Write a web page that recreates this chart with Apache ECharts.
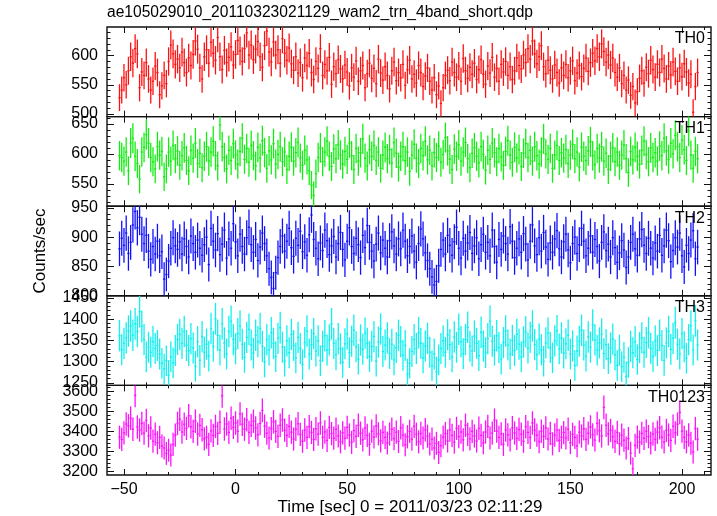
<!DOCTYPE html>
<html><head><meta charset="utf-8">
<script src="https://cdn.jsdelivr.net/npm/echarts@6/dist/echarts.min.js"></script>
<style>html,body{margin:0;padding:0;background:#fff}#c{width:717px;height:516px}</style>
</head><body><div id="c"></div>
<script>
// ---- data: 1-s bins, first bin centre at t = -52 s ----
const timeStart = -52;
const binWidth = 1;
const th0 = [
528,541,562,550,574,598,587,612,603,545,572,566,588,560,541,556,582,571,533,548,
566,552,590,618,603,585,594,579,606,588,571,596,583,602,625,611,579,560,598,610,
587,623,604,592,631,598,576,609,588,597,615,584,602,626,608,590,612,639,601,618,
593,611,624,598,580,617,642,606,589,623,601,610,587,629,604,592,613,586,575,598,
570,588,562,596,583,604,571,559,590,578,612,566,585,574,597,551,581,569,593,577,
560,584,572,548,579,563,591,556,574,583,545,569,587,561,578,552,594,570,558,581,
566,543,574,589,557,571,562,585,549,576,592,560,568,553,583,571,547,565,579,556,
541,562,533,548,518,545,566,575,557,589,571,563,582,556,595,574,561,580,568,587,
559,576,593,568,551,582,570,597,563,578,556,585,572,590,566,581,559,574,596,583,
577,601,588,612,594,625,603,586,598,617,581,569,592,575,560,584,571,553,579,566,
585,562,574,591,557,570,583,564,578,596,573,588,604,591,612,598,620,607,589,601,
584,596,571,563,579,552,566,541,558,532,547,519,538,561,574,553,580,569,592,576,
563,585,571,594,578,560,582,567,589,573,556,579,564,586,572,553,568,503,547,571];
const th1 = [
597,594,588,603,572,618,626,596,584,558,603,611,632,618,594,587,575,612,598,604,
562,575,603,588,614,592,605,581,597,610,589,572,606,593,618,584,601,577,596,612,
588,603,621,597,580,648,612,594,575,606,589,617,598,583,604,626,591,609,586,614,
597,580,611,593,622,602,576,605,590,617,583,599,612,587,603,574,596,611,588,602,
619,593,581,606,590,572,548,531,567,594,610,587,603,621,596,579,608,592,615,598,
583,604,591,618,597,574,609,588,602,625,593,580,607,596,614,589,603,576,598,611,
592,607,585,619,601,578,596,612,589,603,571,598,616,593,584,609,597,621,590,606,
580,602,594,613,586,599,627,605,591,574,608,596,615,588,603,619,592,577,601,610,
596,585,612,599,573,606,591,618,602,587,609,595,581,604,622,598,586,611,593,607,
579,601,617,594,606,588,612,597,583,603,625,600,591,609,576,598,614,589,602,593,
607,584,598,616,592,603,578,611,596,589,605,620,597,582,609,593,612,588,601,574,
596,610,587,603,581,598,615,592,569,604,590,611,596,583,606,621,599,587,610,594,
602,588,613,597,626,605,591,618,600,631,612,594,623,607,589,638,598,576,604,592];
const th2 = [
880,898,886,907,872,891,921,944,916,934,905,889,903,876,862,884,871,893,868,875,
828,836,859,881,899,885,879,892,871,897,884,866,902,889,874,895,881,869,887,900,
853,915,893,878,906,870,888,912,864,897,881,923,892,868,905,884,871,899,917,887,
874,896,860,883,907,889,868,846,831,812,839,865,884,902,876,893,915,882,867,898,
886,910,875,892,869,904,938,896,881,863,890,877,912,894,870,885,901,866,889,908,
879,861,893,916,884,872,898,887,865,903,882,920,891,876,859,888,907,873,895,881,
866,894,909,885,871,897,880,912,893,868,884,902,876,857,889,914,897,873,860,846,
832,818,824,851,879,895,871,903,886,869,892,917,881,864,898,876,890,908,872,885,
899,863,887,905,874,891,868,912,884,857,896,879,902,889,871,918,893,865,881,897,
874,906,888,861,893,921,885,870,899,876,908,883,862,890,874,897,911,880,866,892,
905,878,856,889,900,872,887,915,893,868,881,902,874,896,884,859,891,909,877,888,
866,899,882,857,873,894,878,848,866,891,905,880,869,897,913,886,872,898,881,864,
890,876,903,869,885,912,894,858,877,899,883,907,868,849,886,872,895,911,863,883];
const th3 = [
1361,1328,1343,1356,1372,1384,1362,1389,1371,1418,1383,1352,1311,1334,1322,1347,1331,1338,1318,1296,
1283,1302,1268,1311,1297,1326,1352,1364,1343,1371,1338,1326,1354,1332,1289,1347,1303,1359,1322,1341,
1313,1378,1336,1401,1362,1327,1389,1344,1318,1371,1395,1352,1330,1366,1384,1341,1310,1357,1376,1339,
1320,1362,1347,1378,1336,1299,1352,1327,1368,1343,1312,1355,1380,1334,1301,1349,1321,1364,1338,1309,
1357,1331,1293,1345,1372,1318,1340,1366,1325,1349,1302,1336,1361,1327,1351,1389,1343,1316,1354,1330,
1298,1342,1365,1321,1348,1374,1335,1306,1351,1329,1367,1343,1312,1336,1359,1301,1346,1377,1324,1339,
1356,1319,1341,1304,1333,1362,1347,1315,1338,1271,1296,1324,1352,1331,1368,1343,1309,1337,1355,1322,
1290,1318,1276,1304,1331,1349,1322,1363,1340,1311,1358,1334,1376,1347,1319,1352,1381,1336,1325,1360,
1343,1314,1369,1337,1321,1354,1395,1348,1327,1361,1333,1306,1345,1372,1339,1318,1350,1326,1364,1341,
1311,1346,1370,1332,1357,1384,1340,1316,1353,1328,1301,1344,1367,1333,1309,1349,1373,1330,1356,1320,
1342,1362,1318,1337,1291,1325,1348,1374,1339,1313,1358,1334,1386,1351,1327,1344,1365,1319,1340,1307,
1332,1353,1316,1291,1327,1288,1310,1265,1298,1336,1321,1347,1305,1333,1356,1322,1345,1368,1331,1312,
1349,1326,1362,1338,1303,1344,1371,1329,1355,1392,1341,1318,1366,1335,1308,1352,1384,1327,1396,1339];
const th0123 = [
3372,3361,3394,3438,3429,3467,3412,3581,3423,3408,3441,3392,3456,3379,3418,3352,3387,3344,3371,3328,
3318,3291,3307,3283,3336,3382,3441,3462,3398,3437,3416,3479,3424,3401,3452,3388,3431,3409,3364,3372,
3336,3404,3381,3426,3391,3447,3579,3413,3438,3396,3467,3421,3443,3402,3488,3437,3412,3459,3396,3431,
3452,3418,3384,3441,3506,3427,3392,3368,3415,3449,3401,3376,3432,3458,3407,3381,3426,3397,3363,3412,
3439,3386,3352,3408,3371,3425,3396,3361,3414,3387,3443,3372,3398,3356,3421,3390,3367,3412,3378,3349,
3394,3367,3421,3383,3346,3405,3376,3432,3392,3359,3418,3381,3337,3402,3373,3428,3389,3354,3396,3371,
3343,3388,3412,3365,3397,3351,3419,3382,3334,3374,3401,3362,3426,3387,3349,3391,3368,3409,3377,3338,
3362,3318,3341,3296,3329,3372,3390,3353,3408,3381,3347,3416,3375,3398,3359,3432,3386,3364,3401,3378,
3353,3417,3381,3344,3398,3426,3368,3392,3457,3402,3371,3389,3336,3408,3384,3359,3419,3393,3366,3411,
3387,3352,3424,3396,3371,3443,3408,3382,3349,3402,3376,3418,3363,3391,3339,3383,3407,3356,3372,3395,
3368,3412,3345,3386,3371,3329,3397,3378,3414,3361,3392,3423,3384,3358,3441,3404,3378,3521,3432,3389,
3406,3374,3351,3396,3339,3382,3357,3318,3365,3292,3214,3331,3372,3348,3391,3366,3402,3375,3343,3388,
3361,3397,3419,3372,3348,3406,3383,3356,3427,3394,3437,3496,3402,3371,3349,3383,3342,3298,3415,3362];

const panelNames = ['TH0', 'TH1', 'TH2', 'TH3', 'TH0123'];
const panelSeries = [th0, th1, th2, th3, th0123];
const yMin = [495.5, 513, 799.5, 1244, 3183];
const yMax = [649, 662, 953, 1455, 3631];
const yMajorTicks = [[500, 550, 600], [550, 600, 650], [800, 850, 900, 950], [1250, 1300, 1350, 1400, 1450], [3200, 3300, 3400, 3500, 3600]];
const yMinorStep = [10, 10, 10, 10, 20];
const xMajorTicks = [-50, 0, 50, 100, 150, 200];
const xMinorStep = 10;
const xMin = -57.6, xMax = 213;

// ---- style / layout ----
const COLORS = ['#ff1010', '#10ee10', '#1010ff', '#10f0f0', '#ff10ff'];
const FONT = 'Liberation Sans, Arial, Helvetica, sans-serif';
const GL = 107, GW = 604, GTOP = 27, GH = 89.6;

function minorList(lo, hi, step, majors) {
  const out = [];
  const s = Math.ceil(lo / step) * step;
  for (let v = s; v <= hi; v += step) if (majors.indexOf(v) < 0) out.push(v);
  return out;
}
const xMinorTicks = minorList(xMin, xMax, xMinorStep, xMajorTicks);

const grids = [], xAxes = [], yAxes = [], series = [];
function fmt(v) { return v < 0 ? '\u2212' + (-v) : String(v); }

for (let p = 0; p < 5; p++) {
  grids.push({left: GL, top: GTOP + p * GH, width: GW, height: GH, show: true,
    borderColor: '#111', borderWidth: 1.4, backgroundColor: 'transparent', outerBoundsMode: 'none'});
  const xi = xAxes.length;
  const mkX = (pos, vals, len, lab) => ({
    type: 'value', gridIndex: p, position: pos, min: xMin, max: xMax,
    axisLine: {show: false, onZero: false}, splitLine: {show: false},
    axisTick: {show: true, inside: true, length: len, customValues: vals, lineStyle: {color: '#111', width: 1}},
    axisLabel: {show: lab, customValues: vals, margin: 7, color: '#000', fontSize: 16, fontFamily: FONT, formatter: fmt}
  });
  xAxes.push(mkX('bottom', xMajorTicks, 6, p === 4));
  xAxes.push(mkX('bottom', xMinorTicks, 3, false));
  xAxes.push(mkX('top', xMajorTicks, 6, false));
  xAxes.push(mkX('top', xMinorTicks, 3, false));
  const yi = yAxes.length;
  const yMinor = minorList(yMin[p], yMax[p], yMinorStep[p], yMajorTicks[p]);
  const mkY = (pos, vals, len, lab) => ({
    type: 'value', gridIndex: p, position: pos, min: yMin[p], max: yMax[p],
    axisLine: {show: false, onZero: false}, splitLine: {show: false},
    axisTick: {show: true, inside: true, length: len, customValues: vals, lineStyle: {color: '#111', width: 1}},
    axisLabel: {show: lab, customValues: vals, margin: 9, color: '#000', fontSize: 16, fontFamily: FONT, formatter: v => String(v)}
  });
  yAxes.push(mkY('left', yMajorTicks[p], 7, true));
  yAxes.push(mkY('left', yMinor, 3.5, false));
  yAxes.push(mkY('right', yMajorTicks[p], 7, false));
  yAxes.push(mkY('right', yMinor, 3.5, false));

  const vals = panelSeries[p];
  const data = vals.map((v, i) => [timeStart + i * binWidth, v, Math.sqrt(v * binWidth) / binWidth]);
  const color = COLORS[p];
  series.push({
    type: 'custom', xAxisIndex: xi, yAxisIndex: yi, data: data, silent: true,
    encode: {x: 0, y: 1},
    renderItem: function (params, api) {
      const t = api.value(0), v = api.value(1), e = api.value(2);
      const cs = params.coordSys;
      const top = cs.y, bot = cs.y + cs.height;
      const c = api.coord([t, v]);
      const hi = api.coord([t, v + e]);
      const lo = api.coord([t, v - e]);
      const l = api.coord([t - binWidth / 2, v]);
      const r = api.coord([t + binWidth / 2, v]);
      const clamp = y => Math.max(top, Math.min(bot, y));
      const ch = [];
      const y1 = clamp(hi[1]), y2 = clamp(lo[1]);
      if (y2 > y1) ch.push({type: 'line', shape: {x1: c[0], y1: y1, x2: c[0], y2: y2}, style: {stroke: color, lineWidth: 1.3}});
      if (c[1] >= top && c[1] <= bot) ch.push({type: 'line', shape: {x1: l[0], y1: c[1], x2: r[0], y2: c[1]}, style: {stroke: color, lineWidth: 1.3}});
      return {type: 'group', children: ch};
    }
  });
}

const graphics = [
  {type: 'text', left: 107, top: 5, style: {text: 'ae105029010_20110323021129_wam2_trn_4band_short.qdp', font: '15.6px ' + FONT, fill: '#000'}},
  {type: 'text', x: 410, y: 507, style: {text: 'Time [sec] 0 = 2011/03/23 02:11:29', font: '17px ' + FONT, fill: '#000', align: 'center', verticalAlign: 'middle'}},
  {type: 'text', x: 40, y: 251, rotation: Math.PI / 2, style: {text: 'Counts/sec', font: '17px ' + FONT, fill: '#000', align: 'center', verticalAlign: 'middle'}}
];
for (let p = 0; p < 5; p++) {
  graphics.push({type: 'text', x: 705, y: GTOP + p * GH + 12, z: 10,
    style: {text: panelNames[p], font: '16px ' + FONT, fill: '#000', align: 'right', verticalAlign: 'middle'}});
}

const chart = echarts.init(document.getElementById('c'), null, {renderer: 'canvas'});
chart.setOption({
  animation: false,
  backgroundColor: '#fff',
  grid: grids, xAxis: xAxes, yAxis: yAxes, series: series, graphic: graphics
});
</script></body></html>
